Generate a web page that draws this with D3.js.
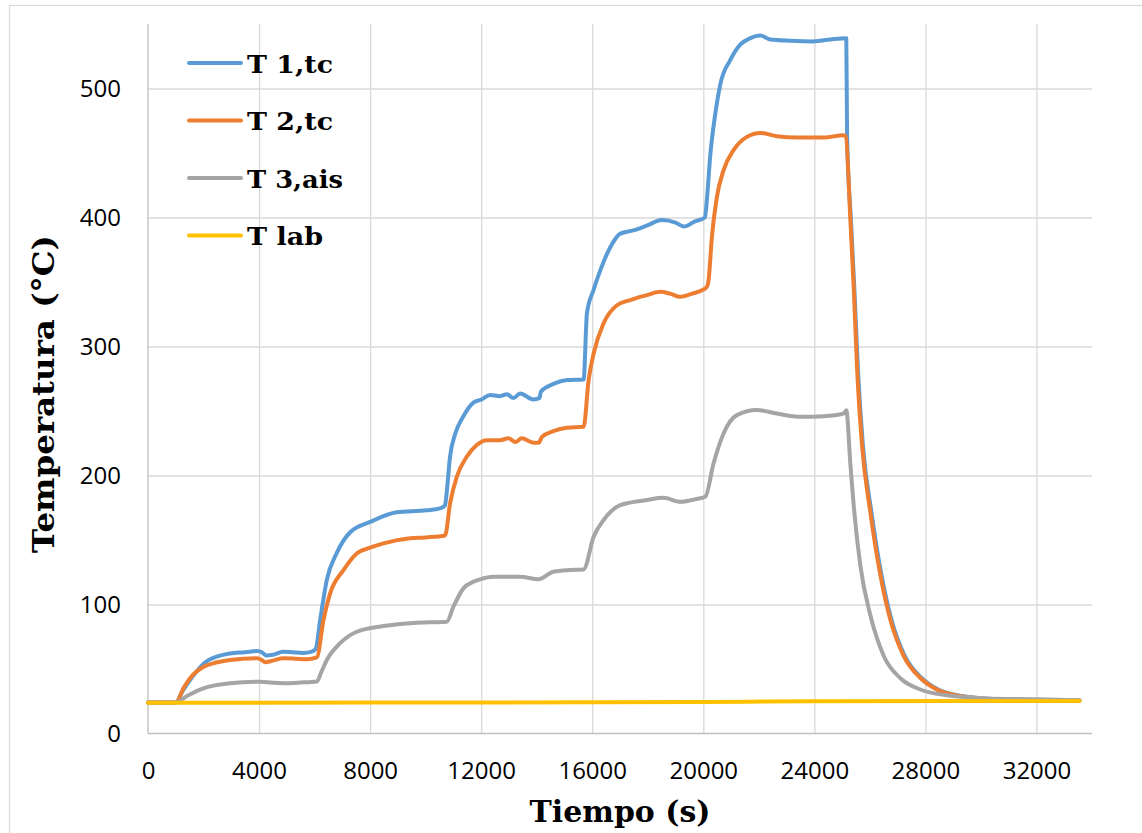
<!DOCTYPE html>
<html>
<head>
<meta charset="utf-8">
<script src="https://cdn.jsdelivr.net/npm/d3@7"></script>
<style>
  html, body { margin: 0; padding: 0; background: #ffffff; }
  svg { display: block; }
</style>
</head>
<body>
<svg id="chart" width="1142" height="833"></svg>
<script>
// ---------------- DATA ----------------
const seriesNames = ["T 1,tc", "T 2,tc", "T 3,ais", "T lab"];
const seriesColors = ["#5B9BD5", "#ED7D31", "#A5A5A5", "#FFC000"];

const xTickValues = [0, 4000, 8000, 12000, 16000, 20000, 24000, 28000, 32000];
const yTickValues = [0, 100, 200, 300, 400, 500];

// [time (s), temperature (°C)]
const t1tc = [
  [0,24],[1000,24],[1250,33],[1500,41],[1750,48],[2050,55],[2400,59],[2950,62],[3500,63],[3950,64],
  [4100,63],[4250,60.5],[4500,61],[4860,63.4],[5200,63],[5590,62.5],[5900,63.5],[6040,65.5],
  [6200,88],[6440,119],[6800,140],[7280,156],[8000,164],[8960,171.5],[10040,173],[10520,174.5],[10700,177],
  [10750,185],[10880,215],[11060,232],[11360,246],[11720,256.5],[12020,259],[12320,262.5],[12680,261.5],[12930,263],
  [13160,260],[13400,263.5],[13880,259],[14100,260],[14150,265],[14600,271],[15090,274],[15690,274.5],
  [15810,326],[16050,344],[16290,359],[16650,377],[17010,387.5],[17480,390],[18000,394],[18500,398],
  [19000,396],[19300,393],[19700,397],[20060,400],[20130,414],
  [20250,448],[20430,480],[20610,503],[20970,522],[21330,534],[21690,539],[22050,541],[22410,538],
  [23140,537],[23960,536.5],[24580,538],[25150,539],
  [25180,462],[25320,397],[25440,345],[25570,282],[25750,223],[26060,171],[26420,122.6],[26780,88],
  [27260,60],[27860,43],[28460,34],[29300,29],[30850,26.2],[32650,25.6],[33550,25.5]
];

const t2tc = [
  [0,24],[1000,24],[1300,36],[1600,45],[1990,51.5],[2450,55],[2950,57],[3920,58.3],[4100,57],[4220,55.2],
  [4500,56.5],[4880,58.3],[5300,58],[5720,57.5],[6080,59],
  [6320,88],[6560,108.6],[7040,126.7],[7520,139.6],[8000,144],[8480,147.4],[9440,151.3],[10000,152],[10700,153.5],
  [10880,178.4],[11120,199],[11480,214.5],[11840,223.6],[12210,227.4],[12680,227.4],[12980,228.8],[13230,226],
  [13460,228.8],[13890,225.4],[14070,225.4],[14190,230],[14600,234.4],[15090,237],[15690,237.8],
  [15870,274],[16050,294.6],[16410,318],[16890,332],[17370,336],[17970,339.8],[18450,342.4],[18800,341],
  [19170,338.5],[19600,341],[20010,344.2],[20130,346.3],
  [20190,351.4],[20310,385],[20490,416],[20730,436.7],[21090,452.2],[21570,462.5],[22050,465.6],[22650,463],
  [23380,462],[24340,462],[25050,463.8],[25130,463],
  [25300,397],[25420,345],[25540,282.5],[25720,223],[26020,171],[26380,122.6],[26740,88],[27220,60],
  [27820,43],[28420,34],[29260,29],[30820,26],[32620,25.5],[33550,25.5]
];

const t3ais = [
  [0,24],[1000,24],[1400,29],[1990,35],[2950,38.9],[4040,40.2],[4500,39.3],[4880,39],[5500,39.5],[6080,40.3],
  [6250,48],[6440,57],[6920,70],[7520,78.9],[8480,83.3],[9680,85.9],[10760,86.7],
  [11000,98.3],[11360,112.5],[11720,117.6],[11960,119.5],[12440,121.5],[13400,121.5],[14070,119.5],
  [14600,125.4],[15210,126.7],[15690,127.2],
  [16050,152.5],[16410,165.5],[17010,177],[17970,181],[18570,182.7],[19170,179.6],[19700,181.5],[20070,183.5],
  [20370,209.4],[20730,232.6],[21210,246.8],[21930,250.7],[22650,248],[23500,245.5],[24340,246],[25050,248],[25150,250.5],
  [25300,208],[25420,176],[25660,129.6],[26020,91.4],[26500,60.1],[27100,42.8],[27820,34.1],[28780,29.6],
  [30220,27.2],[32020,26.5],[33550,25.8]
];

const tLab = [
  [0,23.8],[8000,24],[16000,24.2],[20000,24.4],[24000,25],[33550,25.2]
];

const allSeries = [t1tc, t2tc, t3ais, tLab];

// ---------------- LAYOUT ----------------
const svg = d3.select("#chart");
const plot = { left: 148, right: 1092, top: 24, bottom: 733.5 };

svg.append("rect")
  .attr("x", 0).attr("y", 0).attr("width", 1142).attr("height", 833)
  .attr("fill", "#ffffff");

svg.append("rect")
  .attr("x", 9.5).attr("y", 5.5).attr("width", 1200).attr("height", 900)
  .attr("fill", "none").attr("stroke", "#D9D9D9").attr("stroke-width", 1.2);

const x = d3.scaleLinear().domain([0, 34000]).range([plot.left, plot.right]);
const y = d3.scaleLinear().domain([0, 550]).range([plot.bottom, plot.top]);

const tickFont = "'Open Sans', 'Liberation Sans', sans-serif";
const serifFont = "'DejaVu Serif', 'Liberation Serif', serif";

// Y axis with gridlines
const yAxis = d3.axisLeft(y)
  .tickValues(yTickValues)
  .tickSize(-(plot.right - plot.left))
  .tickSizeOuter(0)
  .tickPadding(27)
  .tickFormat(d3.format("d"));

const gy = svg.append("g")
  .attr("transform", `translate(${plot.left},0)`)
  .call(yAxis);
gy.select(".domain").remove();
gy.selectAll(".tick line")
  .attr("stroke", "#D9D9D9").attr("stroke-width", 1.3)
  .filter(d => d === 0).remove();
gy.selectAll(".tick text")
  .attr("font-family", tickFont).attr("font-size", 24).attr("fill", "#000")
  .attr("dy", "0.35em");

// X axis with gridlines
const xAxis = d3.axisBottom(x)
  .tickValues(xTickValues)
  .tickSize(-(plot.bottom - plot.top))
  .tickSizeOuter(0)
  .tickPadding(28.5)
  .tickFormat(d3.format("d"));

const gx = svg.append("g")
  .attr("transform", `translate(0,${plot.bottom})`)
  .call(xAxis);
gx.select(".domain").remove();
gx.selectAll(".tick line")
  .attr("stroke", "#D9D9D9").attr("stroke-width", 1.3)
  .filter(d => d === 0).remove();
gx.selectAll(".tick text")
  .attr("font-family", tickFont).attr("font-size", 24).attr("fill", "#000")
  .attr("dy", "0.71em");

// Axis lines
svg.append("line")
  .attr("x1", x(0)).attr("x2", x(0)).attr("y1", plot.top).attr("y2", plot.bottom)
  .attr("stroke", "#BFBFBF").attr("stroke-width", 1.3);
svg.append("line")
  .attr("x1", plot.left).attr("x2", plot.right).attr("y1", y(0)).attr("y2", y(0))
  .attr("stroke", "#BFBFBF").attr("stroke-width", 1.3);

// Lines
const line = d3.line()
  .x(d => x(d[0]))
  .y(d => y(d[1]))
  .curve(d3.curveMonotoneX);

svg.append("g").selectAll("path")
  .data(allSeries)
  .join("path")
  .attr("d", line)
  .attr("fill", "none")
  .attr("stroke", (d, i) => seriesColors[i])
  .attr("stroke-width", 4)
  .attr("stroke-linejoin", "round")
  .attr("stroke-linecap", "round");

// Legend
const legendRowsY = [63, 120.5, 178, 235.5];
const legendWidths = [86, 86, 96, 76];
const legend = svg.append("g");
seriesNames.forEach((name, i) => {
  legend.append("line")
    .attr("x1", 189).attr("x2", 241)
    .attr("y1", legendRowsY[i]).attr("y2", legendRowsY[i])
    .attr("stroke", seriesColors[i]).attr("stroke-width", 4)
    .attr("stroke-linecap", "round");
  legend.append("text")
    .attr("x", 247).attr("y", legendRowsY[i] + 9.8)
    .attr("font-family", serifFont).attr("font-weight", "bold").attr("font-size", 25)
    .attr("textLength", legendWidths[i]).attr("lengthAdjust", "spacingAndGlyphs")
    .attr("fill", "#000")
    .text(name);
});

// Axis titles
svg.append("text")
  .attr("x", 620).attr("y", 821.5)
  .attr("text-anchor", "middle")
  .attr("font-family", serifFont).attr("font-weight", "bold").attr("font-size", 30)
  .attr("textLength", 181).attr("lengthAdjust", "spacingAndGlyphs")
  .attr("fill", "#000")
  .text("Tiempo (s)");

svg.append("text")
  .attr("transform", "translate(53.5,394) rotate(-90)")
  .attr("text-anchor", "middle")
  .attr("font-family", serifFont).attr("font-weight", "bold").attr("font-size", 30)
  .attr("textLength", 318).attr("lengthAdjust", "spacingAndGlyphs")
  .attr("fill", "#000")
  .text("Temperatura (°C)");
</script>
</body>
</html>
